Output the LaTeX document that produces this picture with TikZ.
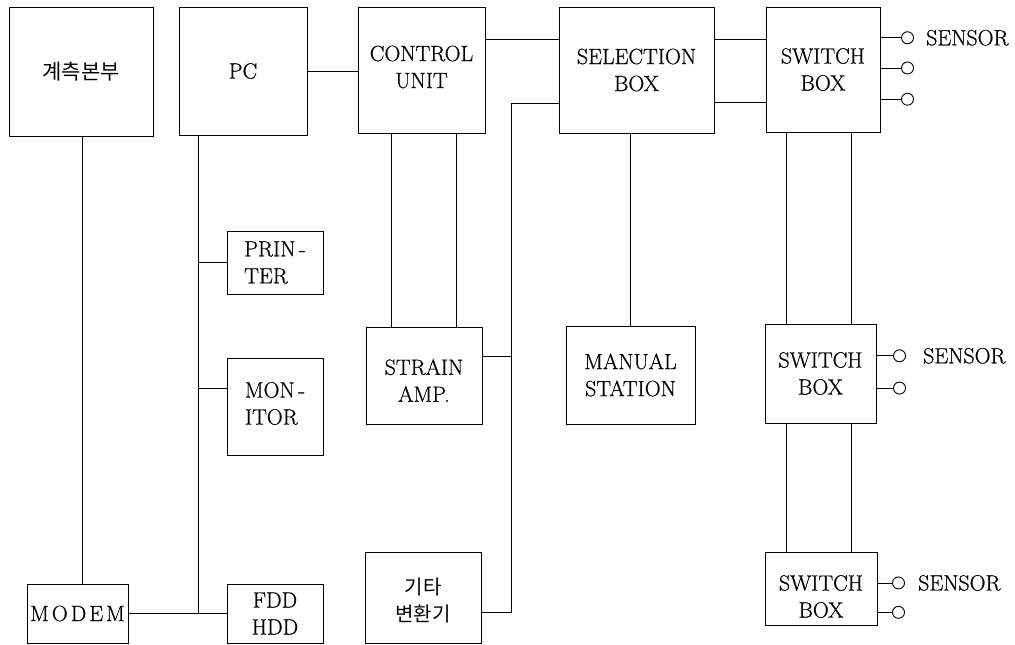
\documentclass[tikz,border=0pt]{standalone}
\usepackage{fontspec}
\newfontfamily\kr{Noto Sans CJK KR}
\newfontfamily\lmh{Latin Modern Roman}[FakeBold=0.6]
\usetikzlibrary{calc}
\begin{document}
\begin{tikzpicture}[x=1pt,y=-1pt,
  box/.style={draw, line width=1pt, inner sep=0pt, align=center,
    font=\lmh\fontsize{22}{27}\selectfont},
  txt/.style={inner sep=0pt, align=center, font=\lmh\fontsize{22}{27}\selectfont},
  krtxt/.style={inner sep=0pt, align=center, font=\kr\fontsize{20}{27}\selectfont},
  wire/.style={line width=0.8pt},
  sens/.style={circle, draw, line width=0.9pt, minimum size=12pt, inner sep=0pt, fill=white},
  lbl/.style={font=\lmh\fontsize{22}{24}\selectfont, anchor=west, inner sep=0pt}]
\useasboundingbox (0,0) rectangle (1015,645);
% boxes
\node[box, minimum width=144pt, minimum height=129pt] (keum) at (81,71.5) {};
\node[krtxt, font=\kr\fontsize{21}{27}\selectfont] at (keum.center) {계측본부};
\node[box, minimum width=128pt, minimum height=128pt] (pc) at (243,71) {PC};
\node[box, minimum width=127pt, minimum height=126pt] (cu) at (421.5,70) {};
\node[txt] at ([yshift=3pt]cu.center) {CONTROL\\UNIT};
\node[box, minimum width=155pt, minimum height=126pt] (sel) at (636.5,70) {SELECTION\\BOX};
\node[box, minimum width=114pt, minimum height=125pt] (sw1) at (823,69.5) {SWITCH\\BOX};
\node[box, minimum width=96pt, minimum height=63pt] (printer) at (275,262.5) {};
\node[txt, align=left] at (printer.center) {PRIN\,-\\TER};
\node[box, minimum width=96pt, minimum height=97pt] (monitor) at (275,406.5) {};
\node[txt, align=left] at ([yshift=3pt]monitor.center) {MON\,-\\ITOR};
\node[box, minimum width=116pt, minimum height=97pt] (strain) at (424,375.5) {};
\node[txt] at ([yshift=-5pt]strain.center) {STRAIN\\AMP.};
\node[box, minimum width=129pt, minimum height=98pt] (manual) at (630.5,375) {MANUAL\\STATION};
\node[box, minimum width=111pt, minimum height=99pt] (sw2) at (820.5,373.5) {SWITCH\\BOX};
\node[box, minimum width=112pt, minimum height=73pt] (sw3) at (821,588.5) {};
\node[txt] at ([yshift=-8pt]sw3.center) {SWITCH\\BOX};
\node[box, minimum width=101pt, minimum height=59pt] (modem) at (77.5,613.5) {};
\node[txt, fill=white, inner ysep=3pt] at (modem.center) {M\hspace{3pt}O\hspace{3pt}D\hspace{3pt}E\hspace{3pt}M};
\node[box, minimum width=96pt, minimum height=59pt] (fdd) at (275,613.5) {FDD\\HDD};
\node[box, minimum width=116pt, minimum height=91pt] (gita) at (423,597.5) {};
\node[krtxt] at ([yshift=-3pt]gita.center) {기타\\변환기};
% connectors
\coordinate (kb) at ($(keum.south west)!0.507!(keum.south east)$);
\draw[wire] (kb) -- (kb |- modem.north);
\draw[wire] (pc.east) -- (pc.east -| cu.west);
\draw[wire] ($(cu.north east)!0.262!(cu.south east)$) coordinate (c1) -- (c1 -| sel.west);
\draw[wire] ($(sel.north east)!0.262!(sel.south east)$) coordinate (s1) -- (s1 -| sw1.west);
\draw[wire] ($(sel.north east)!0.754!(sel.south east)$) coordinate (s2) -- (s2 -| sw1.west);
% PC bus
\coordinate (pcb) at ($(pc.south west)!0.156!(pc.south east)$);
\draw[wire] (pcb) -- (pcb |- fdd.west);
\draw[wire] (modem.east) -- (fdd.west);
\draw[wire] (pcb |- printer.west) -- (printer.west);
\draw[wire] ($(monitor.north west)!0.32!(monitor.south west)$) coordinate (m1) -- (m1 -| pcb);
% control unit to strain amp
\coordinate (cb1) at ($(cu.south west)!0.268!(cu.south east)$);
\coordinate (cb2) at ($(cu.south west)!0.772!(cu.south east)$);
\draw[wire] (cb1) -- (cb1 |- strain.north);
\draw[wire] (cb2) -- (cb2 |- strain.north);
% selection to manual
\draw[wire] (manual.north |- sel.south) -- (manual.north);
% bus from strain amp and gita to selection
\coordinate (busx) at (511,0);
\coordinate (selL) at ($(sel.north west)!0.762!(sel.south west)$);
\draw[wire] ($(gita.north east)!0.66!(gita.south east)$) coordinate (g1) -- (g1 -| busx) |- (selL);
\draw[wire] ($(strain.north east)!0.31!(strain.south east)$) coordinate (st1) -- (st1 -| busx);
% switch box chain
\coordinate (w1) at ($(sw1.south west)!0.184!(sw1.south east)$);
\coordinate (w2) at ($(sw1.south west)!0.746!(sw1.south east)$);
\draw[wire] (w1) -- (w1 |- sw2.north);
\draw[wire] (w2) -- (w2 |- sw2.north);
\draw[wire] (w1 |- sw2.south) -- (w1 |- sw3.north);
\draw[wire] (w2 |- sw2.south) -- (w2 |- sw3.north);
% sensors
\path ($(sw1.north east)!0.248!(sw1.south east)$) coordinate (p11) ++(27,0) node[sens] (o11) {};
\path ($(sw1.north east)!0.488!(sw1.south east)$) coordinate (p12) ++(27,0) node[sens] (o12) {};
\path ($(sw1.north east)!0.736!(sw1.south east)$) coordinate (p13) ++(27,0) node[sens] (o13) {};
\path ($(sw2.north east)!0.323!(sw2.south east)$) coordinate (p21) ++(23,0) node[sens] (o21) {};
\path ($(sw2.north east)!0.646!(sw2.south east)$) coordinate (p22) ++(23,0) node[sens] (o22) {};
\path ($(sw3.north east)!0.425!(sw3.south east)$) coordinate (p31) ++(21,0) node[sens] (o31) {};
\path ($(sw3.north east)!0.822!(sw3.south east)$) coordinate (p32) ++(21,0) node[sens] (o32) {};
\foreach \i in {11,12,13,21,22,31,32} {\draw[wire] (p\i) -- (o\i);}
\node[lbl] (t1) at ([xshift=12pt]o11.east) {SENSOR};
\node[lbl] (t2) at ([xshift=17pt]o21.east) {SENSOR};
\node[lbl] (t3) at ([xshift=13pt]o31.east) {SENSOR};
\end{tikzpicture}
\end{document}
